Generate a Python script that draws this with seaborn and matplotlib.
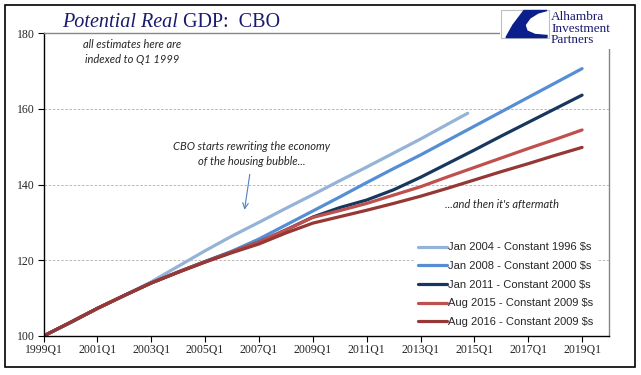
import pandas as pd
import matplotlib
matplotlib.use('Agg')
import matplotlib.pyplot as plt
import seaborn as sns
from matplotlib.patches import Rectangle, Polygon

# годы (значения на 1 квартал каждого года)
years = list(range(1999, 2020))

jan2004 = [100, 103.5, 107.2, 110.7, 114.3, 118.4, 122.5, 126.4, 130.0, 133.7,
           137.3, 141.0, 144.6, 148.3, 152.0, 155.9]
jan2004_last = ('2014Q4', 158.8)

jan2008 = [100, 103.6, 107.3, 110.7, 114.0, 116.9, 119.7, 122.4, 125.6, 129.3,
           133.0, 136.7, 140.5, 144.2, 147.8, 151.6, 155.4, 159.2, 163.0, 166.8, 170.6]
jan2011 = [100, 103.6, 107.3, 110.7, 114.0, 116.9, 119.6, 122.2, 124.8, 128.0,
           131.4, 133.9, 135.9, 138.6, 141.9, 145.5, 149.1, 152.8, 156.4, 160.0, 163.6]
aug2015 = [100, 103.6, 107.3, 110.7, 114.0, 116.9, 119.6, 122.2, 124.8, 128.0,
           131.3, 133.1, 135.0, 137.2, 139.4, 142.0, 144.5, 147.0, 149.5, 151.9, 154.4]
aug2016 = [100, 103.6, 107.3, 110.7, 114.0, 116.8, 119.5, 122.0, 124.3, 127.2,
           129.8, 131.5, 133.2, 135.0, 136.9, 139.0, 141.2, 143.4, 145.5, 147.7, 149.8]

labels = ['Jan 2004 - Constant 1996 $s', 'Jan 2008 - Constant 2000 $s',
          'Jan 2011 - Constant 2000 $s', 'Aug 2015 - Constant 2009 $s',
          'Aug 2016 - Constant 2009 $s']
colors = ['#95B3D7', '#558ED5', '#17375E', '#C0504D', '#953735']

tick_labels = [f'{y}Q1' for y in range(1999, 2021, 2)]


def qidx(label):
    # '2003Q1' -> номер квартала от 1999Q1
    return (int(label[:4]) - 1999) * 4 + int(label[-1]) - 1


rows = []
for lab, vals in zip(labels, [jan2004, jan2008, jan2011, aug2015, aug2016]):
    for y, v in zip(years, vals):
        rows.append((lab, qidx(f'{y}Q1'), v))
rows.append((labels[0], qidx(jan2004_last[0]), jan2004_last[1]))
df = pd.DataFrame(rows, columns=['series', 'q', 'value'])

sns.set_style('white')
plt.rcParams['font.family'] = ['DejaVu Sans']

fig = plt.figure(figsize=(6.41, 3.75), dpi=100)
ax = fig.add_axes([43.5 / 641, 1 - 336 / 375, (609 - 43.5) / 641, (336 - 33) / 375])

sns.lineplot(data=df, x='q', y='value', hue='series', hue_order=labels,
             palette=colors, linewidth=2.3, ax=ax, legend=True)

ax.set_xlim(0, 84)
ax.set_ylim(100, 180)
ax.set_yticks([100, 120, 140, 160, 180])
ax.set_xticks([qidx(t) for t in tick_labels])
ax.set_xticklabels(tick_labels)
ax.set_xlabel('')
ax.set_ylabel('')
for y in [120, 140, 160]:
    ax.axhline(y, color='#B0B0B0', lw=0.6, ls=(0, (3, 2)), zorder=0)

for s in ['left', 'bottom']:
    ax.spines[s].set_color('black')
    ax.spines[s].set_linewidth(1.0)
for s in ['top', 'right']:
    ax.spines[s].set_color('#868686')
    ax.spines[s].set_linewidth(1.0)
ax.tick_params(axis='both', direction='out', length=4, width=0.8, color='black',
               labelsize=8.5, pad=2)
ax.tick_params(axis='y', left=True)
ax.tick_params(axis='x', bottom=True)
for t in ax.get_xticklabels() + ax.get_yticklabels():
    t.set_family('Liberation Serif')

leg = ax.legend(loc='upper left', bbox_to_anchor=(414 / 641, 1 - 238 / 375),
                bbox_transform=fig.transFigure, borderaxespad=0, frameon=True,
                fancybox=False, framealpha=1, edgecolor='none', facecolor='white',
                prop={'family': 'Liberation Sans', 'size': 8},
                handlelength=2.6, handletextpad=0.1, labelspacing=0.78, borderpad=0.4)

# подписи на графике
ax.text(13.2, 175.0, 'all estimates here are\nindexed to Q1 1999', ha='center', va='center',
        fontsize=8, style='italic', family='Lato', linespacing=1.5)
ax.text(30.9, 148.1, 'CBO starts rewriting the economy\nof the housing bubble...',
        ha='center', va='center', fontsize=8, style='italic', family='Lato', linespacing=1.45)
ax.text(68.1, 134.6, "...and then it's aftermath", ha='center', va='center',
        fontsize=8, style='italic', family='Lato')
ax.annotate('', xy=(29.8, 132.6), xytext=(30.7, 143.4),
            arrowprops=dict(arrowstyle='->', color='#4F81BD', lw=0.8))

# заголовок
navy = '#1A1A6E'
t1 = fig.text(62 / 641, 1 - 27 / 375, 'Potential Real', fontsize=14.5, style='italic',
              family='Liberation Serif', color=navy, va='baseline')
fig.canvas.draw()
bb = t1.get_window_extent(fig.canvas.get_renderer())
fig.text((bb.x1 + 5) / 641, 1 - 27 / 375, 'GDP:  CBO', fontsize=14.5,
         family='Liberation Serif', color=navy, va='baseline')

# логотип
lax = fig.add_axes([500 / 641, 1 - 49 / 375, 132 / 641, 41 / 375], zorder=5)
lax.set_xlim(0, 132)
lax.set_ylim(41, 0)
lax.set_facecolor('white')
lax.axis('off')
lax.add_patch(Rectangle((0, 0), 132, 41, color='white', zorder=0))
lax.add_patch(Rectangle((0.5, 2), 48, 28, fill=False, edgecolor='#BFBFBF', lw=0.8))
lax.add_patch(Polygon([(24, 2.5), (47, 2.5), (38, 5), (30, 10), (25, 17), (27, 23),
                       (35, 26.5), (47, 27.5), (47, 29.5), (6, 29.5), (13, 17)],
                      closed=True, color='#0A1E8C'))
for i, word in enumerate(['Alhambra', 'Investment', 'Partners']):
    lax.text(51, 9 + i * 11.5, word, fontsize=9.5, family='Liberation Serif',
             color=navy, va='center', ha='left')

# рамка вокруг рисунка
fig.patches.append(Rectangle((5 / 641, 1 - 367 / 375), 630 / 641, 362 / 375,
                             transform=fig.transFigure, fill=False, edgecolor='black', lw=1.2))

fig.savefig('out.png', dpi=100)
